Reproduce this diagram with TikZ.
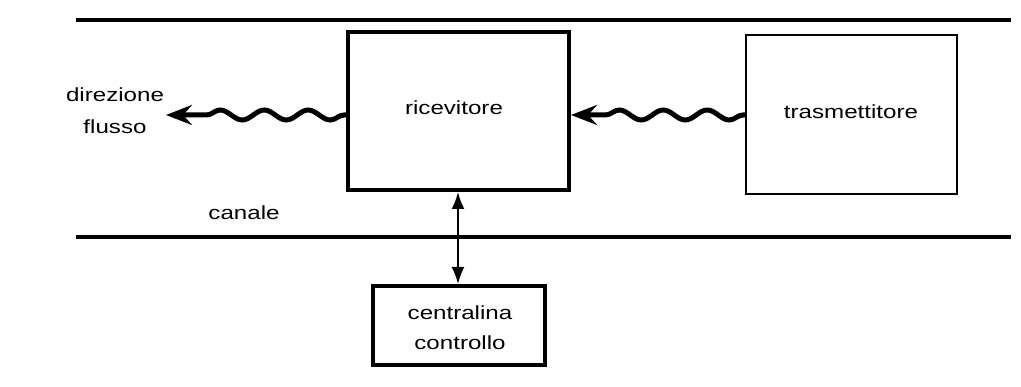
\documentclass[tikz,border=0pt]{standalone}
\usepackage{fontspec}
\newfontfamily\diag[FakeStretch=1.27]{Liberation Sans}
\usetikzlibrary{arrows.meta,decorations.pathmorphing}
\begin{document}
\begin{tikzpicture}[x=1pt,y=-1pt,
  every node/.style={font=\diag\fontsize{19}{30}\selectfont, inner sep=0pt},
  thickbox/.style={draw, line width=4pt, fill=white},
  thinbox/.style={draw, line width=2pt, fill=white},
  rail/.style={line width=4pt},
  wave/.style={line width=5pt, decorate,
    decoration={snake, amplitude=5pt, segment length=44pt, pre length=2pt, post length=22pt},
    -{Stealth[length=26pt,width=20pt,inset=9pt]}},
  ctrl/.style={line width=2pt, {Latex[length=17pt,width=13pt]}-{Latex[length=17pt,width=13pt]}}
]
\useasboundingbox (0,0) rectangle (1021,387);
\fill[white] (0,0) rectangle (1021,387);
% rails of the channel
\coordinate (t1) at (76,20);
\coordinate (t2) at (1011,20);
\coordinate (b1) at (76,237);
\coordinate (b2) at (1011,237);
\draw[rail] (t1) -- (t2);
\draw[rail] (b1) -- (b2);
% boxes
\node[thickbox, minimum width=221pt, minimum height=158pt] (ric) at (458.5,111) {};
\node at (454,108) {ricevitore};
\node[thinbox, minimum width=211pt, minimum height=159pt] (tra) at (851.5,114.5) {};
\node at (851,112) {trasmettitore};
\node[thickbox, minimum width=172pt, minimum height=79pt, align=center] (ctl) at (459,325.5) {};
\node (ctl1) at (460,313) {centralina};
\node (ctl2) at (460,343) {controllo};
% labels
\node (dir1) at (115,95) {direzione};
\node (dir2) at (115,127) {flusso};
\node (can) at (244,213) {canale};
% connectors
\coordinate (flowend) at (166,115);
\draw[wave] (tra.west |- 0,115) -- (ric.east |- 0,115);
\draw[wave] (ric.west |- 0,115) -- (flowend);
\draw[ctrl] (ric.south -| 458,0) -- (ctl.north -| 458,0);
\end{tikzpicture}
\end{document}
